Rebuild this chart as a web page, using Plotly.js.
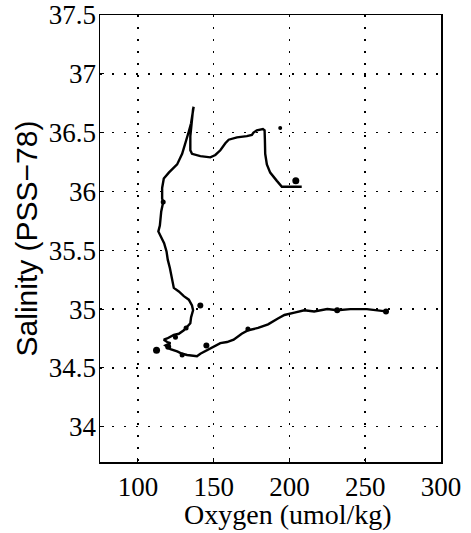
<!DOCTYPE html>
<html>
<head>
<meta charset="utf-8">
<script src="https://cdn.plot.ly/plotly-3.0.1.min.js"></script>
<style>html,body{margin:0;padding:0;background:#fff;}#chart{width:471px;height:533px;}</style>
</head>
<body>
<div id="chart"></div>
<script>
// Profile trace: oxygen (umol/kg) vs salinity (PSS-78)
var oxygen = [208.1,195.0,191.7,187.3,185.1,184.0,183.8,183.6,182.5,178.5,176.3,175.2,171.9,165.4,159.9,157.7,154.4,151.1,147.8,141.2,135.7,134.6,134.6,135.3,136.4,136.8,
  135.1,133.6,131.4,129.2,125.9,122.6,120.4,117.1,116.0,116.0,116.7,115.4,114.5,113.5,115.5,117.3,118.9,119.7,121.1,122.6,123.7,127.0,130.3,133.6,135.7,136.4,135.1,134.6,132.5,130.3,127.0,123.7,119.3,117.1,119.3,121.5,118.2,119.3,121.5,125.9,129.2,132.5,139.0,141.2,145.6,150.0,154.4,158.8,163.2,168.5,172.8,179.3,185.9,192.4,196.7,203.3,209.8,216.3,225.0,231.5,240.2,251.1,259.8,263.7];
var salinity = [36.04,36.04,36.09,36.16,36.23,36.32,36.44,36.52,36.53,36.52,36.50,36.48,36.47,36.46,36.44,36.41,36.35,36.31,36.29,36.30,36.32,36.35,36.47,36.58,36.70,36.72,
  36.58,36.51,36.41,36.32,36.23,36.19,36.16,36.11,36.03,35.94,35.91,35.83,35.71,35.66,35.61,35.56,35.49,35.42,35.35,35.25,35.18,35.15,35.11,35.08,35.03,34.99,34.93,34.88,34.85,34.82,34.79,34.78,34.75,34.74,34.72,34.71,34.69,34.68,34.66,34.64,34.62,34.61,34.60,34.62,34.65,34.68,34.71,34.72,34.74,34.79,34.82,34.84,34.87,34.92,34.95,34.97,34.99,34.98,35.00,34.99,35.00,35.00,34.99,34.98];

// Bottle sample dots
var bottleOxygen = [193.9,204.2,116.7,141.2,131.8,124.8,120.0,112.3,129.2,145.2,172.6,231.5,263.7];
var bottleSalinity = [36.54,36.09,35.91,35.03,34.84,34.76,34.68,34.65,34.61,34.69,34.83,34.99,34.98];
var bottleSize = [4,7,5,6,5,5,6,7,5,6,5,6,6];

var xTicks = [100,150,200,250,300];
var yTicks = [34,34.5,35,35.5,36,36.5,37,37.5];

var traces = [
  {x: oxygen, y: salinity, type: 'scatter', mode: 'lines',
   line: {color: '#000', width: 2.4}, hoverinfo: 'skip'},
  {x: bottleOxygen, y: bottleSalinity, type: 'scatter', mode: 'markers',
   marker: {color: '#000', size: bottleSize, opacity: 1, line: {width: 0}}, hoverinfo: 'skip'}
];

var layout = {
  width: 471, height: 533,
  margin: {l: 100, r: 30, t: 15, b: 71},
  paper_bgcolor: '#fff', plot_bgcolor: '#fff',
  showlegend: false,
  font: {family: 'Liberation Serif', color: '#000'},
  xaxis: {
    range: [75, 300], tickvals: xTicks,
    showgrid: true, gridcolor: '#000', gridwidth: 1.5, griddash: '2px,10px',
    zeroline: false, showline: true, linecolor: '#000', linewidth: 1.5, mirror: true,
    ticks: 'inside', ticklen: 4, tickcolor: '#000', tickwidth: 1,
    tickfont: {family: 'Liberation Serif', size: 27, color: '#000'}
  },
  yaxis: {
    range: [33.7, 37.5], tickvals: yTicks,
    showgrid: true, gridcolor: '#000', gridwidth: 1.5, griddash: '2px,10px',
    zeroline: false, showline: true, linecolor: '#000', linewidth: 1.5, mirror: true,
    ticks: 'inside', ticklen: 4, tickcolor: '#000', tickwidth: 1,
    ticklabelstandoff: -3,
    tickfont: {family: 'Liberation Serif', size: 27, color: '#000'},
    title: {text: 'Salinity (PSS\u221278)', font: {family: 'Liberation Sans', size: 30, color: '#000'}, standoff: 2}
  },
  annotations: [{
    text: 'Oxygen (umol/kg)', xref: 'paper', yref: 'paper', x: 0.551, y: -0.118,
    xanchor: 'center', yanchor: 'middle', showarrow: false,
    font: {family: 'Liberation Serif', size: 28, color: '#000'}
  }]
};

function fixFonts() {
  var gd = document.getElementById('chart');
  gd.querySelectorAll('.xtick text, .ytick text, .annotation-text, .annotation text').forEach(function (t) {
    t.style.fontFamily = "'Liberation Serif', 'Times New Roman', serif";
  });
  gd.querySelectorAll('.ytitle').forEach(function (t) {
    t.style.fontFamily = "'Liberation Sans', Arial, sans-serif";
  });
}

Plotly.newPlot('chart', traces, layout, {staticPlot: true, displayModeBar: false}).then(function () {
  fixFonts();
  setTimeout(fixFonts, 50);
});
</script>
</body>
</html>
